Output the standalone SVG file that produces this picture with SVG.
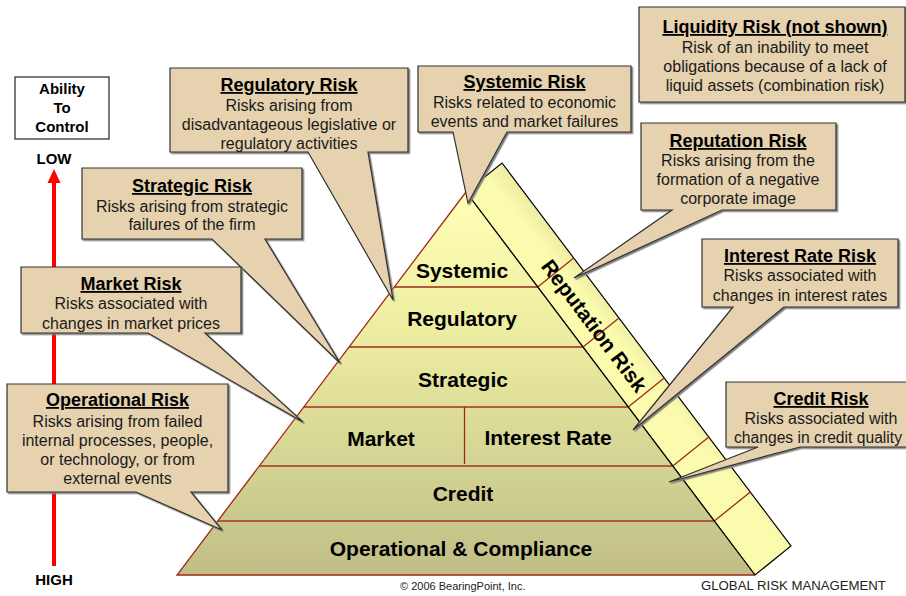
<svg xmlns="http://www.w3.org/2000/svg" width="906" height="596" viewBox="0 0 906 596">
<style>
.lvl{font-family:"Liberation Sans",Arial,sans-serif;font-weight:bold;font-size:21px;fill:#000;text-anchor:middle}
.co{fill:#e6d2ae;stroke:#303030;stroke-width:1.2;filter:url(#sh)}
.tt{font-family:"Liberation Sans",Arial,sans-serif;font-weight:bold;font-size:18px;fill:#000;text-anchor:middle;text-decoration:underline}
.bd{font-family:"Liberation Sans",Arial,sans-serif;font-size:16px;fill:#1a1a1a;text-anchor:middle}
.ax{font-family:"Liberation Sans",Arial,sans-serif;font-weight:bold;font-size:15px;fill:#000;text-anchor:middle}
.sep{stroke:#b05c3a;stroke-width:2;fill:none}
.sep2{stroke:#a02818;stroke-width:1.3;fill:none}
.ft{font-family:"Liberation Sans",Arial,sans-serif;fill:#222}
</style>
<defs>
<linearGradient id="gf" x1="0" y1="192" x2="0" y2="575" gradientUnits="userSpaceOnUse">
<stop offset="0" stop-color="#ffffb6"/>
<stop offset="0.35" stop-color="#eeeea2"/>
<stop offset="0.7" stop-color="#d4d494"/>
<stop offset="1" stop-color="#c0be86"/>
</linearGradient>
<linearGradient id="gs" x1="648" y1="377" x2="684" y2="348" gradientUnits="userSpaceOnUse">
<stop offset="0" stop-color="#fbfbae"/>
<stop offset="1" stop-color="#d8d796"/>
</linearGradient>
<filter id="sh" x="-5%" y="-5%" width="110%" height="115%">
<feDropShadow dx="1.5" dy="1.5" stdDeviation="0.6" flood-color="#7a7a7a"/>
</filter>
</defs>
<rect width="906" height="596" fill="#fff"/>

<g id="pyramid">
<polygon points="466,192 502,163 791,546 755,575" fill="url(#gs)" stroke="#000" stroke-width="1.2"/>
<polygon points="466,192 755,575 177,575" fill="url(#gf)"/>
<g class="sep">
<line x1="394.3" y1="287" x2="537.7" y2="287"/>
<line x1="349" y1="347" x2="583" y2="347"/>
<line x1="303.8" y1="407" x2="628.2" y2="407"/>
<line x1="259.2" y1="466" x2="672.8" y2="466"/>
<line x1="217.7" y1="521" x2="714.3" y2="521"/>
</g>
<g class="sep2">
<line x1="464.5" y1="407" x2="464.5" y2="464"/>
<line x1="537.7" y1="287" x2="573.7" y2="258"/>
<line x1="583" y1="347" x2="619" y2="318"/>
<line x1="628.2" y1="407" x2="664.2" y2="378"/>
<line x1="672.8" y1="466" x2="708.8" y2="437"/>
<line x1="714.3" y1="521" x2="750.3" y2="492"/>
<polyline points="466,192 177,575 755,575"/>
</g>
<line x1="466" y1="192" x2="755" y2="575" stroke="#000" stroke-width="1.2"/>
<text class="lvl" x="462" y="278">Systemic</text>
<text class="lvl" x="462" y="326">Regulatory</text>
<text class="lvl" x="463" y="387">Strategic</text>
<text class="lvl" x="381" y="446">Market</text>
<text class="lvl" x="548" y="445">Interest Rate</text>
<text class="lvl" x="463" y="501">Credit</text>
<text class="lvl" x="461" y="556">Operational &amp; Compliance</text>
<text class="lvl" transform="translate(594,326) rotate(52.9)" x="0" y="7" font-size="21.5">Reputation Risk</text>
</g>

<g id="axis">
<rect x="15" y="77" width="94" height="62" fill="#fff" stroke="#222" stroke-width="1.2"/>
<text class="ax" x="62" y="94">Ability</text>
<text class="ax" x="62" y="113">To</text>
<text class="ax" x="62" y="132">Control</text>
<text class="ax" x="54" y="164">LOW</text>
<text class="ax" x="54" y="585">HIGH</text>
<line x1="54" y1="566" x2="54" y2="180" stroke="#ff0000" stroke-width="4"/>
<polygon points="54,169 60.5,183 47.5,183" fill="#ff0000"/>
</g>

<g id="callouts">
<g id="liquidity">
<path class="co" d="M639,7 H905 V102 H639 Z"/>
<text class="tt" x="775" y="33">Liquidity Risk (not shown)</text>
<text class="bd" x="775" y="53">Risk of an inability to meet</text>
<text class="bd" x="775" y="72">obligations because of a lack of</text>
<text class="bd" x="775" y="91">liquid assets (combination risk)</text>
</g>
<g id="reputation">
<path class="co" d="M641,123 H836 V210 H722 L574,278 L672,210 H641 Z"/>
<text class="tt" x="738" y="147">Reputation Risk</text>
<text class="bd" x="738" y="166">Risks arising from the</text>
<text class="bd" x="738" y="185">formation of a negative</text>
<text class="bd" x="738" y="204">corporate image</text>
</g>
<g id="systemic">
<path class="co" d="M418,66 H631 V132 H507 L468,203 L453,132 H418 Z"/>
<text class="tt" x="524.5" y="88">Systemic Risk</text>
<text class="bd" x="524.5" y="108">Risks related to economic</text>
<text class="bd" x="524.5" y="127">events and market failures</text>
</g>
<g id="regulatory">
<path class="co" d="M170,68 H408 V152 H368 L393,300 L308,152 H170 Z"/>
<text class="tt" x="289" y="91">Regulatory Risk</text>
<text class="bd" x="289" y="111">Risks arising from</text>
<text class="bd" x="289" y="130">disadvantageous legislative or</text>
<text class="bd" x="289" y="149">regulatory activities</text>
</g>
<g id="strategic">
<path class="co" d="M82,168 H302 V239 H265 L340,363 L212,239 H82 Z"/>
<text class="tt" x="192" y="192">Strategic Risk</text>
<text class="bd" x="192" y="212">Risks arising from strategic</text>
<text class="bd" x="192" y="230">failures of the firm</text>
</g>
<g id="market">
<path class="co" d="M21,267 H241 V333 H205 L303,422 L148,333 H21 Z"/>
<text class="tt" x="131" y="290">Market Risk</text>
<text class="bd" x="131" y="309">Risks associated with</text>
<text class="bd" x="131" y="329">changes in market prices</text>
</g>
<g id="operational">
<path class="co" d="M7,384 H228 V492 H191 L222,530 L136,492 H7 Z"/>
<text class="tt" x="117.5" y="406">Operational Risk</text>
<text class="bd" x="117.5" y="427">Risks arising from failed</text>
<text class="bd" x="117.5" y="446">internal processes, people,</text>
<text class="bd" x="117.5" y="465">or technology, or from</text>
<text class="bd" x="117.5" y="484">external events</text>
</g>
<g id="interest">
<path class="co" d="M702,239 H898 V307 H784 L633,430 L733,307 H702 Z"/>
<text class="tt" x="800" y="262">Interest Rate Risk</text>
<text class="bd" x="800" y="281">Risks associated with</text>
<text class="bd" x="800" y="301">changes in interest rates</text>
</g>
<g id="credit">
<path class="co" d="M726,382 H920 V447 H800 L669,482 L758,447 H726 Z"/>
<text class="tt" x="821" y="405">Credit Risk</text>
<text class="bd" x="821" y="424">Risks associated with</text>
<text class="bd" x="818" y="443" textLength="168" lengthAdjust="spacingAndGlyphs">changes in credit quality</text>
</g>
</g>

<g id="footer">
<text class="ft" x="400" y="590" font-size="11">© 2006 BearingPoint, Inc.</text>
<text class="ft" x="701" y="590" font-size="13.2">GLOBAL RISK MANAGEMENT</text>
</g>
</svg>
